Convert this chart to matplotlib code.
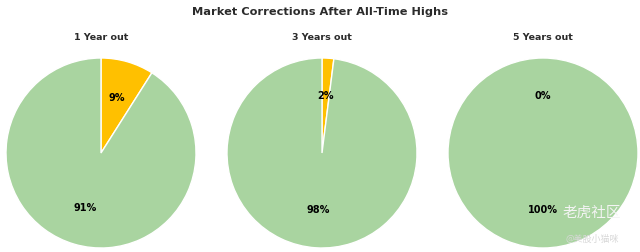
import numpy as np
import matplotlib
matplotlib.use("Agg")
from matplotlib import pyplot as plt

periods = ["1 Year out", "3 Years out", "5 Years out"]
correction = [9, 2, 0]
no_correction = [91, 98, 100]
colors = ["#FFC000", "#A9D4A0"]

W, H = 640, 252
fig = plt.figure(figsize=(W / 100, H / 100), dpi=100)
fig.patch.set_facecolor("white")

centers_x = [101, 322, 543]
cy = 153
r = 95
lim = 1.0

for i, name in enumerate(periods):
    side = 2 * r
    ax = fig.add_axes([(centers_x[i] - r) / W, (H - cy - r) / H, side / W, side / H])
    ax.pie([correction[i], no_correction[i]], colors=colors, startangle=90,
           counterclock=False, autopct='%1.0f%%', pctdistance=0.6,
           wedgeprops=dict(edgecolor="white", linewidth=1.0),
           textprops=dict(fontsize=7, fontweight="bold", color="black"))
    ax.set_xlim(-lim, lim)
    ax.set_ylim(-lim, lim)
    ax.set_aspect("equal")
    fig.text(centers_x[i] / W, 1 - 37 / H, name, ha="center", va="center",
             fontsize=6.8, fontweight="bold", color="#2b2b2b")

fig.text(0.5, 1 - 12 / H, "Market Corrections After All-Time Highs", ha="center",
         va="center", fontsize=8.2, fontweight="bold", color="#2b2b2b")

# watermark
fig.text(563 / W, 1 - 213 / H, "老虎社区", ha="left", va="center", fontsize=10.5,
         color="#f4f4f4", family=["Noto Sans CJK SC", "DejaVu Sans"])
fig.text(566 / W, 1 - 239 / H, "@美股小猫咪", ha="left", va="center", fontsize=6.5,
         color="#d8d8d8", family=["Noto Sans CJK SC", "DejaVu Sans"])

plt.savefig("out.png", dpi=100)
